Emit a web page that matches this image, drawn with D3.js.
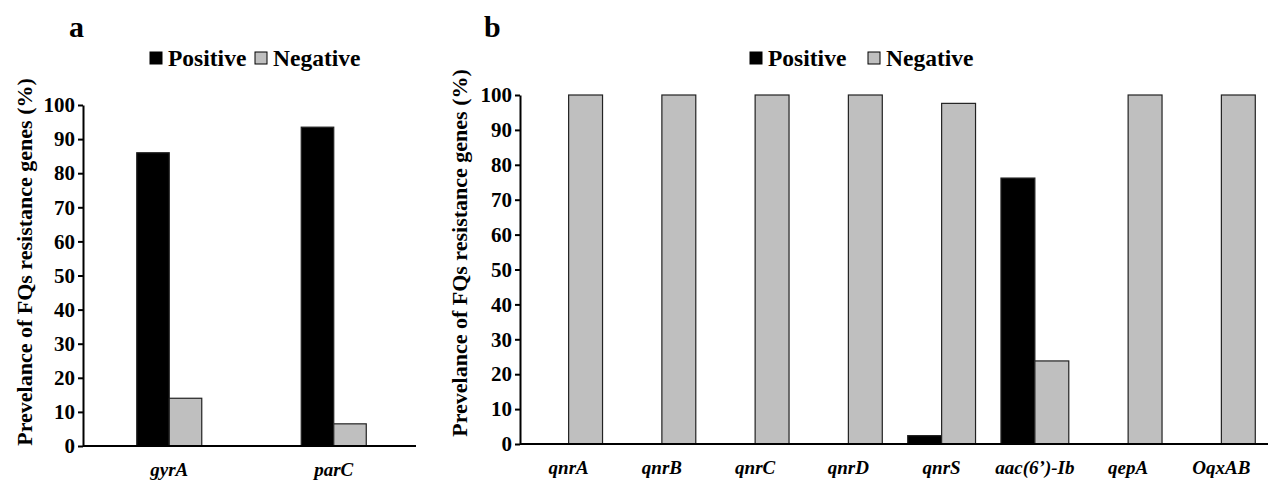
<!DOCTYPE html>
<html lang="en">
<head>
  <meta charset="UTF-8">
  <title>FQs resistance genes</title>
  <script src="https://d3js.org/d3.v7.min.js"></script>
  <style>
    body { margin: 0; background: #fff; }
    text { font-family: "Liberation Serif", "Times New Roman", serif; font-weight: bold; fill: #000; }
    .axis path, .axis line { stroke: #000; stroke-width: 2; }
    .axis text { font-size: 21px; }
  </style>
</head>
<body>
  <svg width="1268" height="481"></svg>

  <script>
    // panel a
    const genesA = ["gyrA", "parC"];
    const positiveA = [86, 93.5];
    const negativeA = [14, 6.5];

    // panel b
    const genesB = ["qnrA", "qnrB", "qnrC", "qnrD", "qnrS", "aac(6’)-Ib", "qepA", "OqxAB"];
    const positiveB = [0, 0, 0, 0, 2.4, 76.2, 0, 0];
    const negativeB = [100, 100, 100, 100, 97.6, 23.8, 100, 100];

    const yTicks = [0, 10, 20, 30, 40, 50, 60, 70, 80, 90, 100];
    const series = ["Positive", "Negative"];
    const colors = d3.scaleOrdinal().domain(series).range(["#000000", "#bfbfbf"]);

    const svg = d3.select("svg");

    function drawPanel(opts) {
      const g = svg.append("g");
      const data = opts.genes.map((gene, i) => ({
        gene: gene,
        values: [
          { key: "Positive", value: opts.pos[i] },
          { key: "Negative", value: opts.neg[i] }
        ]
      }));

      const x = d3.scaleBand()
        .domain(opts.genes)
        .range([opts.xStart, opts.right]);

      const x1 = d3.scaleBand()
        .domain(series)
        .range([0, x.bandwidth()])
        .paddingOuter(opts.outer)
        .paddingInner(0);

      const y = d3.scaleLinear()
        .domain([0, 100])
        .range([opts.bottom, opts.top]);

      // bars
      g.selectAll(".grp")
        .data(data)
        .enter().append("g")
        .attr("transform", d => `translate(${x(d.gene)},0)`)
        .selectAll("rect")
        .data(d => d.values.filter(v => v.value > 0))
        .enter().append("rect")
        .attr("x", d => x1(d.key))
        .attr("y", d => y(d.value))
        .attr("width", x1.bandwidth())
        .attr("height", d => y(0) - y(d.value))
        .attr("fill", d => colors(d.key))
        .attr("stroke", "#222")
        .attr("stroke-width", 1.2);

      // y axis
      g.append("g")
        .attr("class", "axis")
        .attr("transform", `translate(${opts.left},0)`)
        .call(d3.axisLeft(y).tickValues(yTicks).tickSize(5).tickSizeOuter(0));

      // x axis line from the y axis to the right edge
      const xa = g.append("g")
        .attr("class", "axis")
        .attr("transform", `translate(0,${opts.bottom})`)
        .call(d3.axisBottom(x).tickSize(0).tickSizeOuter(0));
      xa.select(".domain").attr("d", `M${opts.left},0H${opts.right}`);
      xa.selectAll("text")
        .attr("dy", "1.4em")
        .style("font-size", "19px")
        .style("font-style", "italic");

      // y title
      g.append("text")
        .attr("transform", `translate(${opts.titleX},${opts.titleY}) rotate(-90)`)
        .attr("text-anchor", "middle")
        .style("font-size", "22px")
        .text("Prevelance of FQs resistance genes (%)");

      // panel letter
      g.append("text")
        .attr("x", opts.letterX)
        .attr("y", 37)
        .style("font-size", "30px")
        .text(opts.letter);

      // legend
      const lg = g.append("g").attr("transform", `translate(${opts.legendX},58)`);
      const item = lg.selectAll("g")
        .data(series)
        .enter().append("g")
        .attr("transform", (d, i) => `translate(${i * opts.legendStep},0)`);
      item.append("rect")
        .attr("x", 0).attr("y", -6)
        .attr("width", 12).attr("height", 12)
        .attr("fill", d => colors(d))
        .attr("stroke", "#000").attr("stroke-width", 1);
      item.append("text")
        .attr("x", 18).attr("y", 8)
        .style("font-size", "23.5px")
        .text(d => d);
    }

    drawPanel({
      genes: genesA, pos: positiveA, neg: negativeA,
      left: 83, xStart: 87, right: 416, top: 105, bottom: 446,
      outer: 1.53,
      titleX: 32, titleY: 262,
      letter: "a", letterX: 69,
      legendX: 150, legendStep: 105
    });

    drawPanel({
      genes: genesB, pos: positiveB, neg: negativeB,
      left: 520, xStart: 522, right: 1268, top: 95, bottom: 444,
      outer: 0.375,
      titleX: 467, titleY: 253,
      letter: "b", letterX: 484,
      legendX: 750, legendStep: 118
    });
  </script>
</body>
</html>
